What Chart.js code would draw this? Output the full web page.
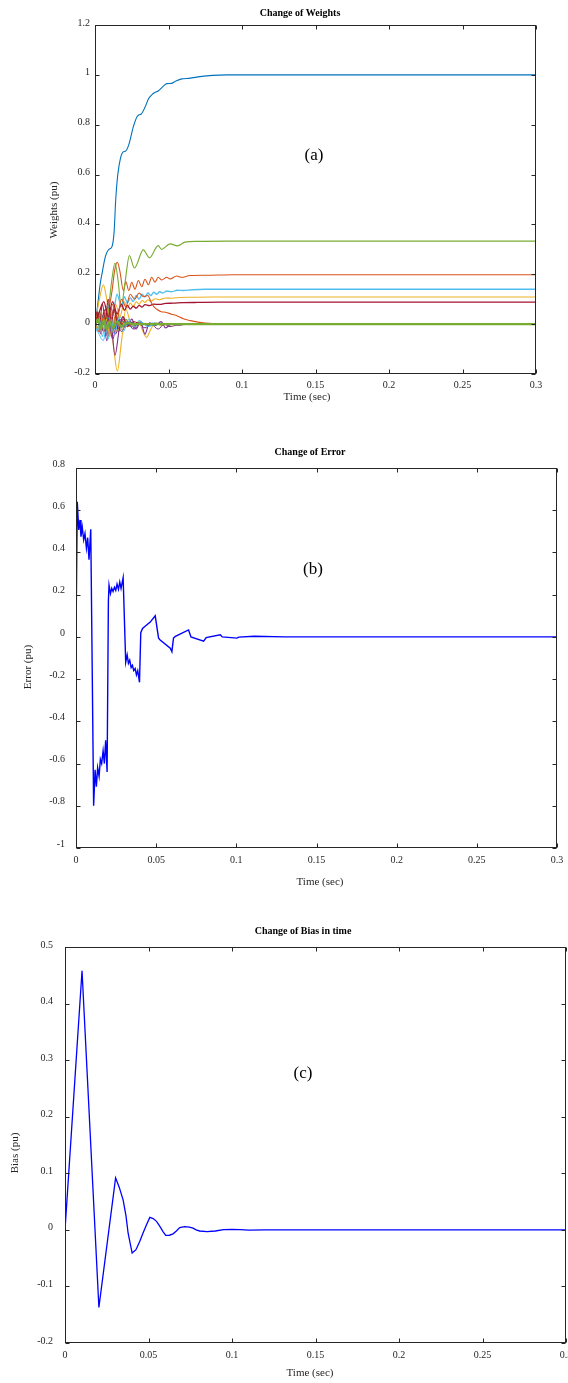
<!DOCTYPE html>
<html>
<head>
<meta charset="utf-8">
<script src="https://cdn.jsdelivr.net/npm/chart.js@4.4.0/dist/chart.umd.min.js"></script>
<style>
html, body { margin: 0; padding: 0; background: #fff; }
body { width: 568px; height: 1383px; position: relative; overflow: hidden; }
canvas { position: absolute; left: 0; }
</style>
</head>
<body>
<canvas id="cw" width="568" height="405" style="top:0px"></canvas>
<canvas id="ce" width="568" height="455" style="top:440px"></canvas>
<canvas id="cb" width="568" height="483" style="top:900px"></canvas>
<script>
// tick values
const timeTicks = [0, 0.05, 0.1, 0.15, 0.2, 0.25, 0.3];
const weightTicks = [-0.2, 0, 0.2, 0.4, 0.6, 0.8, 1, 1.2];
const errorTicks = [-1, -0.8, -0.6, -0.4, -0.2, 0, 0.2, 0.4, 0.6, 0.8];
const biasTicks = [-0.2, -0.1, 0, 0.1, 0.2, 0.3, 0.4, 0.5];

// (a) weights, [time, value]
const wBlue = [[0,0],[0.0015,0.06],[0.0035,0.16],[0.005,0.21],[0.007,0.27],[0.0095,0.3],[0.0115,0.31],[0.013,0.37],[0.0141,0.5],[0.0155,0.6],[0.0175,0.67],[0.019,0.69],[0.021,0.695],[0.023,0.72],[0.026,0.79],[0.0284,0.83],[0.03,0.84],[0.0315,0.843],[0.034,0.87],[0.0365,0.905],[0.0386,0.92],[0.041,0.93],[0.043,0.935],[0.046,0.952],[0.0488,0.965],[0.0522,0.966],[0.055,0.975],[0.059,0.984],[0.064,0.986],[0.0714,0.993],[0.08,0.998],[0.09,1.0],[0.3,1.0]];
const wGreen = [[0,0],[0.004,0.03],[0.007,0.0],[0.0095,0.08],[0.0115,0.18],[0.0136,0.245],[0.0158,0.17],[0.0178,0.07],[0.0205,0.17],[0.0234,0.275],[0.0268,0.225],[0.0329,0.298],[0.037,0.266],[0.043,0.315],[0.0453,0.3],[0.051,0.322],[0.0562,0.314],[0.0612,0.329],[0.07,0.332],[0.09,0.333],[0.3,0.333]];
const wRed = [[0,0],[0.003,0.04],[0.006,0.0],[0.009,0.05],[0.0115,0.13],[0.0135,0.22],[0.0152,0.248],[0.017,0.21],[0.0193,0.134],[0.021,0.17],[0.023,0.134],[0.025,0.168],[0.0272,0.14],[0.0295,0.175],[0.0318,0.15],[0.034,0.18],[0.0363,0.158],[0.0386,0.188],[0.0408,0.168],[0.043,0.188],[0.0454,0.177],[0.0488,0.188],[0.051,0.181],[0.0556,0.193],[0.059,0.188],[0.0646,0.195],[0.0757,0.196],[0.094,0.198],[0.3,0.198]];
const wCyan = [[0,0],[0.003,-0.02],[0.006,0.02],[0.009,0.07],[0.012,0.03],[0.015,0.12],[0.018,0.07],[0.02,0.11],[0.022,0.085],[0.024,0.105],[0.026,0.09],[0.028,0.115],[0.03,0.1],[0.032,0.12],[0.034,0.108],[0.036,0.125],[0.038,0.115],[0.04,0.128],[0.042,0.12],[0.044,0.13],[0.046,0.125],[0.049,0.133],[0.052,0.13],[0.056,0.136],[0.06,0.135],[0.066,0.138],[0.075,0.14],[0.3,0.14]];
const wYellow = [[0,0],[0.003,0.1],[0.0057,0.158],[0.008,0.1],[0.011,0.01],[0.014,0.08],[0.017,0.03],[0.02,0.09],[0.022,0.065],[0.024,0.085],[0.026,0.07],[0.028,0.09],[0.03,0.08],[0.032,0.095],[0.034,0.087],[0.036,0.098],[0.038,0.092],[0.041,0.102],[0.044,0.098],[0.048,0.105],[0.052,0.104],[0.058,0.107],[0.065,0.108],[0.08,0.109],[0.3,0.109]];
const wDarkRed = [[0,0],[0.003,0.05],[0.006,0.09],[0.009,0.03],[0.012,0.09],[0.015,0.04],[0.018,0.08],[0.02,0.055],[0.022,0.075],[0.024,0.06],[0.026,0.072],[0.028,0.064],[0.03,0.075],[0.032,0.068],[0.034,0.078],[0.037,0.074],[0.04,0.08],[0.044,0.079],[0.048,0.083],[0.053,0.084],[0.06,0.086],[0.07,0.087],[0.085,0.088],[0.3,0.088]];
const wRedDecay = [[0,0],[0.003,-0.03],[0.006,0.03],[0.009,-0.02],[0.012,0.08],[0.015,0.02],[0.018,0.1],[0.021,0.07],[0.024,0.12],[0.027,0.1],[0.03,0.125],[0.033,0.11],[0.036,0.115],[0.038,0.09],[0.04,0.07],[0.042,0.06],[0.045,0.05],[0.048,0.048],[0.052,0.04],[0.056,0.033],[0.06,0.022],[0.065,0.014],[0.071,0.007],[0.08,0.002],[0.09,0],[0.3,0]];
const wYellowDip = [[0,0],[0.003,0.03],[0.006,-0.02],[0.009,0.07],[0.012,-0.06],[0.0152,-0.188],[0.018,-0.07],[0.021,0.06],[0.024,0.01],[0.027,-0.01],[0.03,0.01],[0.032,-0.02],[0.035,-0.053],[0.038,-0.02],[0.041,0.005],[0.045,-0.005],[0.05,0],[0.3,0]];
const wPurple = [[0,0],[0.003,-0.02],[0.0055,0.02],[0.008,-0.066],[0.0105,0.02],[0.0136,-0.125],[0.0165,-0.02],[0.019,0.03],[0.022,-0.01],[0.025,0.02],[0.028,-0.02],[0.031,0.01],[0.034,-0.04],[0.037,0.005],[0.041,-0.005],[0.045,0.01],[0.048,-0.015],[0.052,0],[0.057,-0.004],[0.062,0],[0.3,0]];
const wNoise1 = [[0,0],[0.002,0.03],[0.004,-0.02],[0.006,0.05],[0.008,-0.03],[0.01,0.06],[0.012,-0.02],[0.014,0.04],[0.017,-0.01],[0.02,0.02],[0.025,0],[0.03,0.005],[0.04,0],[0.3,0]];
const wNoise2 = [[0,0],[0.003,0.05],[0.006,-0.02],[0.009,0.07],[0.012,-0.03],[0.015,0.05],[0.018,-0.015],[0.021,0.02],[0.025,0],[0.3,0]];
const wNoise3 = [[0,0],[0.002,-0.03],[0.0057,-0.066],[0.008,0.02],[0.011,0.04],[0.014,-0.02],[0.017,0.03],[0.02,0],[0.023,0.02],[0.027,-0.01],[0.03,0.015],[0.034,0],[0.04,0.005],[0.05,0],[0.3,0]];
const wNoise4 = [[0,0],[0.002,0.04],[0.004,0.01],[0.007,0.06],[0.01,-0.02],[0.013,0.07],[0.016,-0.03],[0.019,0.02],[0.023,-0.005],[0.03,0],[0.3,0]];
const wNoise5 = [[0,0],[0.003,-0.02],[0.006,0.03],[0.009,-0.04],[0.012,0.01],[0.015,-0.03],[0.019,0.01],[0.024,-0.01],[0.03,0.005],[0.036,-0.005],[0.045,0],[0.3,0]];
const wNoise6 = [[0,0],[0.002,0.02],[0.004,-0.04],[0.006,0.01],[0.0085,-0.05],[0.011,0],[0.014,-0.04],[0.017,0.02],[0.02,-0.01],[0.024,0.01],[0.027,-0.02],[0.03,0],[0.3,0]];
const wNoise7 = [[0,0],[0.002,0.01],[0.004,0.04],[0.007,-0.01],[0.01,0.03],[0.013,-0.02],[0.016,0.015],[0.02,-0.01],[0.025,0.005],[0.03,0],[0.3,0]];
const wNoise8 = [[0,0],[0.002,-0.02],[0.004,0.04],[0.006,-0.03],[0.008,0.02],[0.01,-0.05],[0.012,0.01],[0.015,-0.03],[0.018,0.01],[0.022,-0.01],[0.03,0],[0.3,0]];
const wNoise9 = [[0,0],[0.003,0.01],[0.006,-0.03],[0.009,0.02],[0.012,-0.06],[0.015,0],[0.018,-0.03],[0.022,0.01],[0.026,-0.02],[0.029,0.005],[0.034,-0.015],[0.038,0],[0.043,-0.02],[0.047,0],[0.051,-0.01],[0.058,0],[0.3,0]];
const wNoise10 = [[0,0],[0.0015,0.05],[0.003,-0.01],[0.005,0.08],[0.007,0.02],[0.009,0.1],[0.011,0.0],[0.013,0.06],[0.016,-0.02],[0.019,0.03],[0.022,-0.01],[0.026,0.01],[0.032,0],[0.3,0]];
const wNoise11 = [[0,0],[0.0015,-0.03],[0.003,0.02],[0.005,-0.05],[0.007,0.01],[0.009,-0.06],[0.011,0.02],[0.013,-0.04],[0.016,0.01],[0.019,-0.03],[0.023,0.01],[0.027,-0.01],[0.031,0.01],[0.036,-0.01],[0.042,0],[0.3,0]];
const wNoise12 = [[0,0],[0.002,0.015],[0.004,-0.01],[0.006,0.03],[0.008,-0.015],[0.01,0.02],[0.012,-0.02],[0.014,0.015],[0.017,-0.01],[0.02,0.01],[0.024,0],[0.3,0]];
const wZero = [[0,0],[0.002,0.02],[0.004,-0.02],[0.006,0.015],[0.008,-0.02],[0.01,0.01],[0.012,-0.015],[0.015,0.01],[0.018,-0.01],[0.022,0.005],[0.026,0],[0.3,0]];

// (b) error
const errorPts = [[0,0],[0.0008,0.64],[0.0017,0.507],[0.0025,0.554],[0.0031,0.475],[0.0039,0.52],[0.0048,0.46],[0.0056,0.49],[0.0065,0.42],[0.0073,0.47],[0.0081,0.365],[0.0092,0.51],[0.011,-0.8],[0.0119,-0.63],[0.0127,-0.71],[0.0135,-0.62],[0.0144,-0.66],[0.0152,-0.58],[0.016,-0.6],[0.0169,-0.54],[0.0177,-0.6],[0.0185,-0.49],[0.0194,-0.64],[0.0202,0.17],[0.0206,0.245],[0.0215,0.205],[0.0223,0.23],[0.0231,0.215],[0.024,0.235],[0.0248,0.22],[0.0256,0.25],[0.0265,0.225],[0.0273,0.26],[0.0281,0.23],[0.0294,0.28],[0.031,-0.12],[0.0319,-0.085],[0.0327,-0.125],[0.0335,-0.11],[0.0344,-0.145],[0.0352,-0.135],[0.036,-0.16],[0.0369,-0.15],[0.0377,-0.18],[0.0385,-0.16],[0.0396,-0.215],[0.0404,0.02],[0.0415,0.04],[0.0431,0.05],[0.0463,0.07],[0.0494,0.1],[0.0515,-0.006],[0.0525,-0.015],[0.0588,-0.054],[0.0598,-0.07],[0.0608,-0.006],[0.062,0.003],[0.0702,0.033],[0.0717,0.0],[0.0796,-0.02],[0.0812,-0.003],[0.09,0.01],[0.0912,0.0],[0.1004,-0.006],[0.1015,-0.001],[0.111,0.003],[0.13,0],[0.3,0]];

// (c) bias
const biasPts = [[0,0],[0.0102,0.458],[0.0203,-0.137],[0.0303,0.092],[0.0325,0.075],[0.0348,0.053],[0.0365,0.025],[0.0378,-0.006],[0.0402,-0.041],[0.0425,-0.035],[0.0448,-0.02],[0.0468,-0.005],[0.0488,0.009],[0.0508,0.022],[0.0528,0.02],[0.0548,0.015],[0.0568,0.006],[0.0587,-0.003],[0.0603,-0.0096],[0.0625,-0.0095],[0.0647,-0.007],[0.0667,-0.002],[0.0687,0.004],[0.0717,0.0057],[0.0745,0.005],[0.0767,0.003],[0.0785,0],[0.0806,-0.002],[0.085,-0.003],[0.09,-0.002],[0.095,0.0005],[0.1,0.001],[0.105,0.0005],[0.11,-0.0005],[0.12,0],[0.3,0]];

const C = { blue:'#0072BD', orange:'#D95319', yellow:'#EDB120', purple:'#7E2F8E', green:'#77AC30', cyan:'#4DBEEE', dred:'#A2142F' };
const weightSeries = [
  [wBlue, C.blue, 1.1], [wNoise1, C.orange, 1], [wYellowDip, C.yellow, 1.1], [wPurple, C.purple, 1.1],
  [wNoise2, C.green, 1], [wNoise3, C.cyan, 1], [wNoise4, C.dred, 1], [wNoise5, C.blue, 1],
  [wRed, C.orange, 1.1], [wYellow, C.yellow, 1.1], [wNoise6, C.purple, 1], [wGreen, C.green, 1.1],
  [wCyan, C.cyan, 1.3], [wDarkRed, C.dred, 1.3], [wNoise7, C.blue, 1], [wRedDecay, C.orange, 1.1],
  [wNoise8, C.yellow, 1], [wNoise9, C.purple, 1], [wNoise10, C.dred, 1], [wNoise11, C.cyan, 1],
  [wNoise12, C.orange, 1], [wZero, C.green, 2.2]
];

const pts = pairs => pairs.map(([x, y]) => ({ x, y }));
const fmt = v => String(Math.round(v * 1000) / 1000);
const SERIF = '"Liberation Serif", "Times New Roman", serif';

// matlab style box, inward ticks, title, axis labels, panel tag
const matFrame = {
  id: 'matFrame',
  afterDraw(chart, args, o) {
    const { ctx, chartArea: a } = chart;
    const xs = chart.scales.x, ys = chart.scales.y;
    ctx.save();
    ctx.strokeStyle = '#262626';
    ctx.lineWidth = 1;
    const L = Math.round(a.left) + 0.5, R = Math.round(a.right) - 0.5;
    const T = Math.round(a.top) + 0.5, B = Math.round(a.bottom) - 0.5;
    ctx.strokeRect(L, T, R - L, B - T);
    ctx.beginPath();
    o.xTicks.forEach(v => {
      const p = Math.round(xs.getPixelForValue(v)) + 0.5;
      ctx.moveTo(p, B); ctx.lineTo(p, B - 4);
      ctx.moveTo(p, T); ctx.lineTo(p, T + 4);
    });
    o.yTicks.forEach(v => {
      const p = Math.round(ys.getPixelForValue(v)) + 0.5;
      ctx.moveTo(L, p); ctx.lineTo(L + 4, p);
      ctx.moveTo(R, p); ctx.lineTo(R - 4, p);
    });
    ctx.stroke();
    ctx.textAlign = 'center';
    ctx.textBaseline = 'middle';
    ctx.fillStyle = '#000';
    ctx.font = 'bold 10px ' + SERIF;
    ctx.fillText(o.title[0], o.title[1], o.title[2]);
    ctx.fillStyle = '#262626';
    ctx.font = '11px ' + SERIF;
    ctx.fillText(o.xLabel[0], o.xLabel[1], o.xLabel[2]);
    ctx.save();
    ctx.translate(o.yLabel[1], o.yLabel[2]);
    ctx.rotate(-Math.PI / 2);
    ctx.fillText(o.yLabel[0], 0, 0);
    ctx.restore();
    ctx.fillStyle = '#000';
    ctx.font = '17px ' + SERIF;
    ctx.fillText(o.tag[0], o.tag[1], o.tag[2]);
    ctx.restore();
  }
};

function makeChart(id, datasets, lay) {
  const zeroPad = s => { s.paddingLeft = 0; s.paddingRight = 0; s.paddingTop = 0; s.paddingBottom = 0; };
  const tickFont = { family: SERIF, size: 10 };
  return new Chart(document.getElementById(id), {
    type: 'line',
    data: { datasets },
    options: {
      responsive: false,
      animation: false,
      devicePixelRatio: 1,
      layout: { padding: { left: 0, top: lay.top, right: lay.right, bottom: 0 } },
      elements: { point: { radius: 0 } },
      plugins: {
        legend: { display: false },
        tooltip: { enabled: false },
        matFrame: Object.assign({ xTicks: timeTicks, yTicks: lay.yTicks }, lay.text)
      },
      scales: {
        x: {
          type: 'linear', min: 0, max: 0.3,
          grid: { display: false, drawTicks: false },
          border: { display: false },
          afterBuildTicks: s => { s.ticks = timeTicks.map(v => ({ value: v })); },
          afterFit: s => { s.height = lay.xh; zeroPad(s); },
          ticks: { color: '#262626', font: tickFont, padding: lay.xPad, maxRotation: 0, autoSkip: false, callback: fmt }
        },
        y: {
          type: 'linear', min: lay.yTicks[0], max: lay.yTicks[lay.yTicks.length - 1],
          grid: { display: false, drawTicks: false },
          border: { display: false },
          afterBuildTicks: s => { s.ticks = lay.yTicks.map(v => ({ value: v })); },
          afterFit: s => { s.width = lay.left; zeroPad(s); },
          ticks: { color: '#262626', font: tickFont, padding: lay.yPad, labelOffset: lay.yOff, autoSkip: false, callback: fmt }
        }
      }
    },
    plugins: [matFrame]
  });
}

const n = weightSeries.length;
makeChart('cw', weightSeries.map(([d, c, w], i) => ({
  data: pts(d), borderColor: c, borderWidth: w, cubicInterpolationMode: 'monotone', order: n - i
})), {
  top: 25, right: 32, left: 95, xh: 31, xPad: 5, yPad: 5, yOff: -2, yTicks: weightTicks,
  text: { title: ['Change of Weights', 300, 13], xLabel: ['Time (sec)', 307, 397], yLabel: ['Weights (pu)', 54, 210], tag: ['(a)', 314, 156] }
});

makeChart('ce', [{ data: pts(errorPts), borderColor: '#0000FF', borderWidth: 1.4, tension: 0 }], {
  top: 28, right: 11, left: 76, xh: 47, xPad: 6, yPad: 11, yOff: -4, yTicks: errorTicks,
  text: { title: ['Change of Error', 310, 12], xLabel: ['Time (sec)', 320, 442], yLabel: ['Error (pu)', 28, 227], tag: ['(b)', 313, 130] }
});

makeChart('cb', [{ data: pts(biasPts), borderColor: '#0000FF', borderWidth: 1.3, tension: 0 }], {
  top: 47, right: 2, left: 65, xh: 40, xPad: 6, yPad: 12, yOff: -2, yTicks: biasTicks,
  text: { title: ['Change of Bias in time', 303, 31], xLabel: ['Time (sec)', 310, 473], yLabel: ['Bias (pu)', 15.5, 253], tag: ['(c)', 303, 174] }
});
</script>
</body>
</html>
